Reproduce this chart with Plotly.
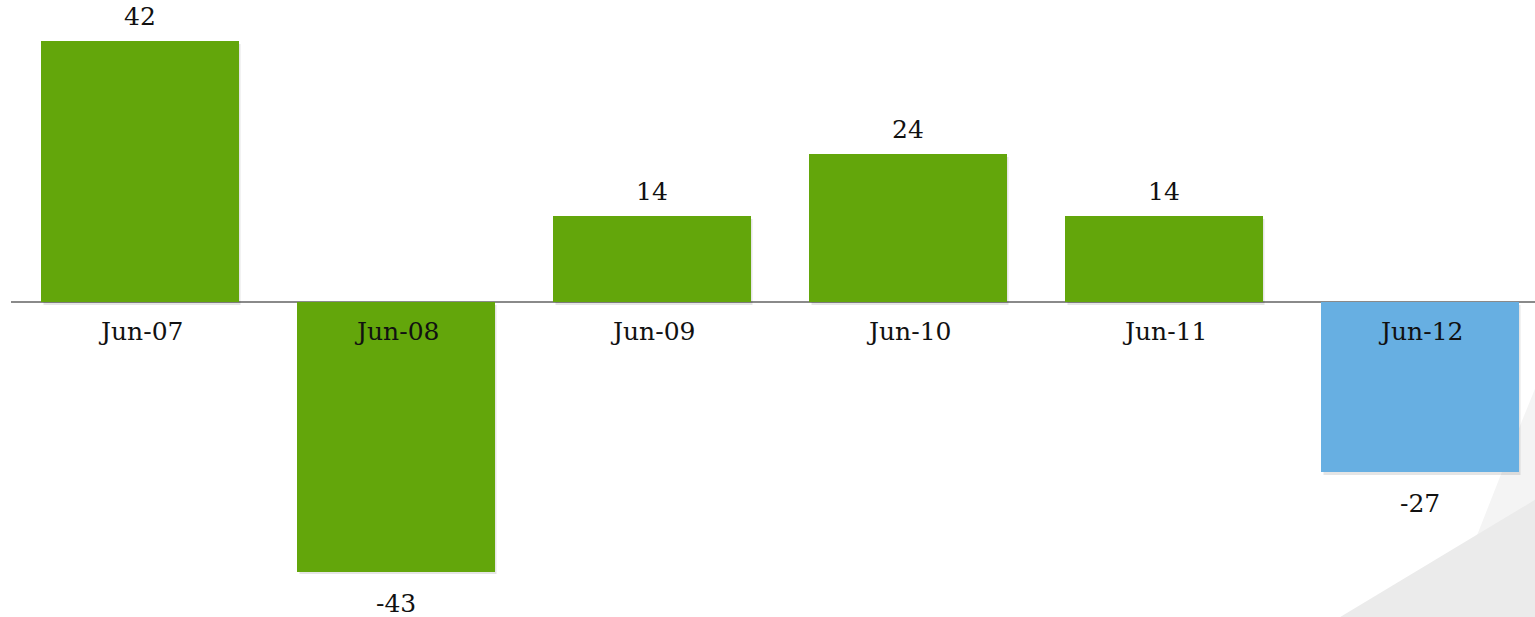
import plotly.graph_objects as go

categories = ["Jun-07", "Jun-08", "Jun-09", "Jun-10", "Jun-11", "Jun-12"]
values = [42.1, -43.5, 13.9, 23.9, 13.9, -27.4]
value_labels = ["42", "-43", "14", "24", "14", "-27"]
bar_colors = ["#63a60b", "#63a60b", "#63a60b", "#63a60b", "#63a60b", "#67afe2"]

FONT = "Georgia, 'DejaVu Serif', serif"
x = list(range(len(categories)))

fig = go.Figure()
# soft shadow
for off, alpha in [(0.010, 0.05), (0.006, 0.05)]:
    fig.add_trace(go.Bar(x=[i + off for i in x], y=values, width=0.77,
                         marker=dict(color=f"rgba(0,0,0,{alpha})", line=dict(width=0)),
                         base=-0.45,
                         hoverinfo="skip", showlegend=False))
fig.add_trace(go.Bar(x=x, y=values, width=0.77,
                     marker=dict(color=bar_colors, line=dict(width=0)),
                     showlegend=False))

annotations = []
for i, (c, v, t) in enumerate(zip(categories, values, value_labels)):
    annotations.append(dict(x=i, y=0, text=c, showarrow=False, xref="x", yref="y",
                            yanchor="top", yshift=-13,
                            font=dict(family=FONT, size=25, color="#111")))
    if v > 0:
        annotations.append(dict(x=i, y=v, text=t, showarrow=False, xref="x", yref="y",
                                yanchor="bottom", yshift=8,
                                font=dict(family=FONT, size=25, color="#111")))
    else:
        annotations.append(dict(x=i, y=v, text=t, showarrow=False, xref="x", yref="y",
                                yanchor="top", yshift=-15,
                                font=dict(family=FONT, size=25, color="#111")))

shapes = [
    dict(type="path", xref="paper", yref="paper", layer="below",
         path="M 0.9409 0 L 0.9915 0.318 L 1 0.37 L 1 0 Z",
         fillcolor="#f4f4f4", line=dict(width=0)),
    dict(type="path", xref="paper", yref="paper", layer="below",
         path="M 0.8722 0 L 1 0.19 L 1 0 Z",
         fillcolor="#ebebeb", line=dict(width=0)),
]

fig.update_layout(
    width=1535, height=617,
    margin=dict(l=11, r=0, t=0, b=0),
    paper_bgcolor="white", plot_bgcolor="rgba(0,0,0,0)",
    barmode="overlay", bargap=0,
    xaxis=dict(range=[-0.504, 5.449], showticklabels=False, showgrid=False,
               zeroline=False, showline=False),
    yaxis=dict(range=[-50.81, 48.71], showticklabels=False, showgrid=False,
               zeroline=True, zerolinecolor="#8a8a8a", zerolinewidth=2,
               showline=False),
    annotations=annotations,
    shapes=shapes,
)
fig.write_html("out.html")
